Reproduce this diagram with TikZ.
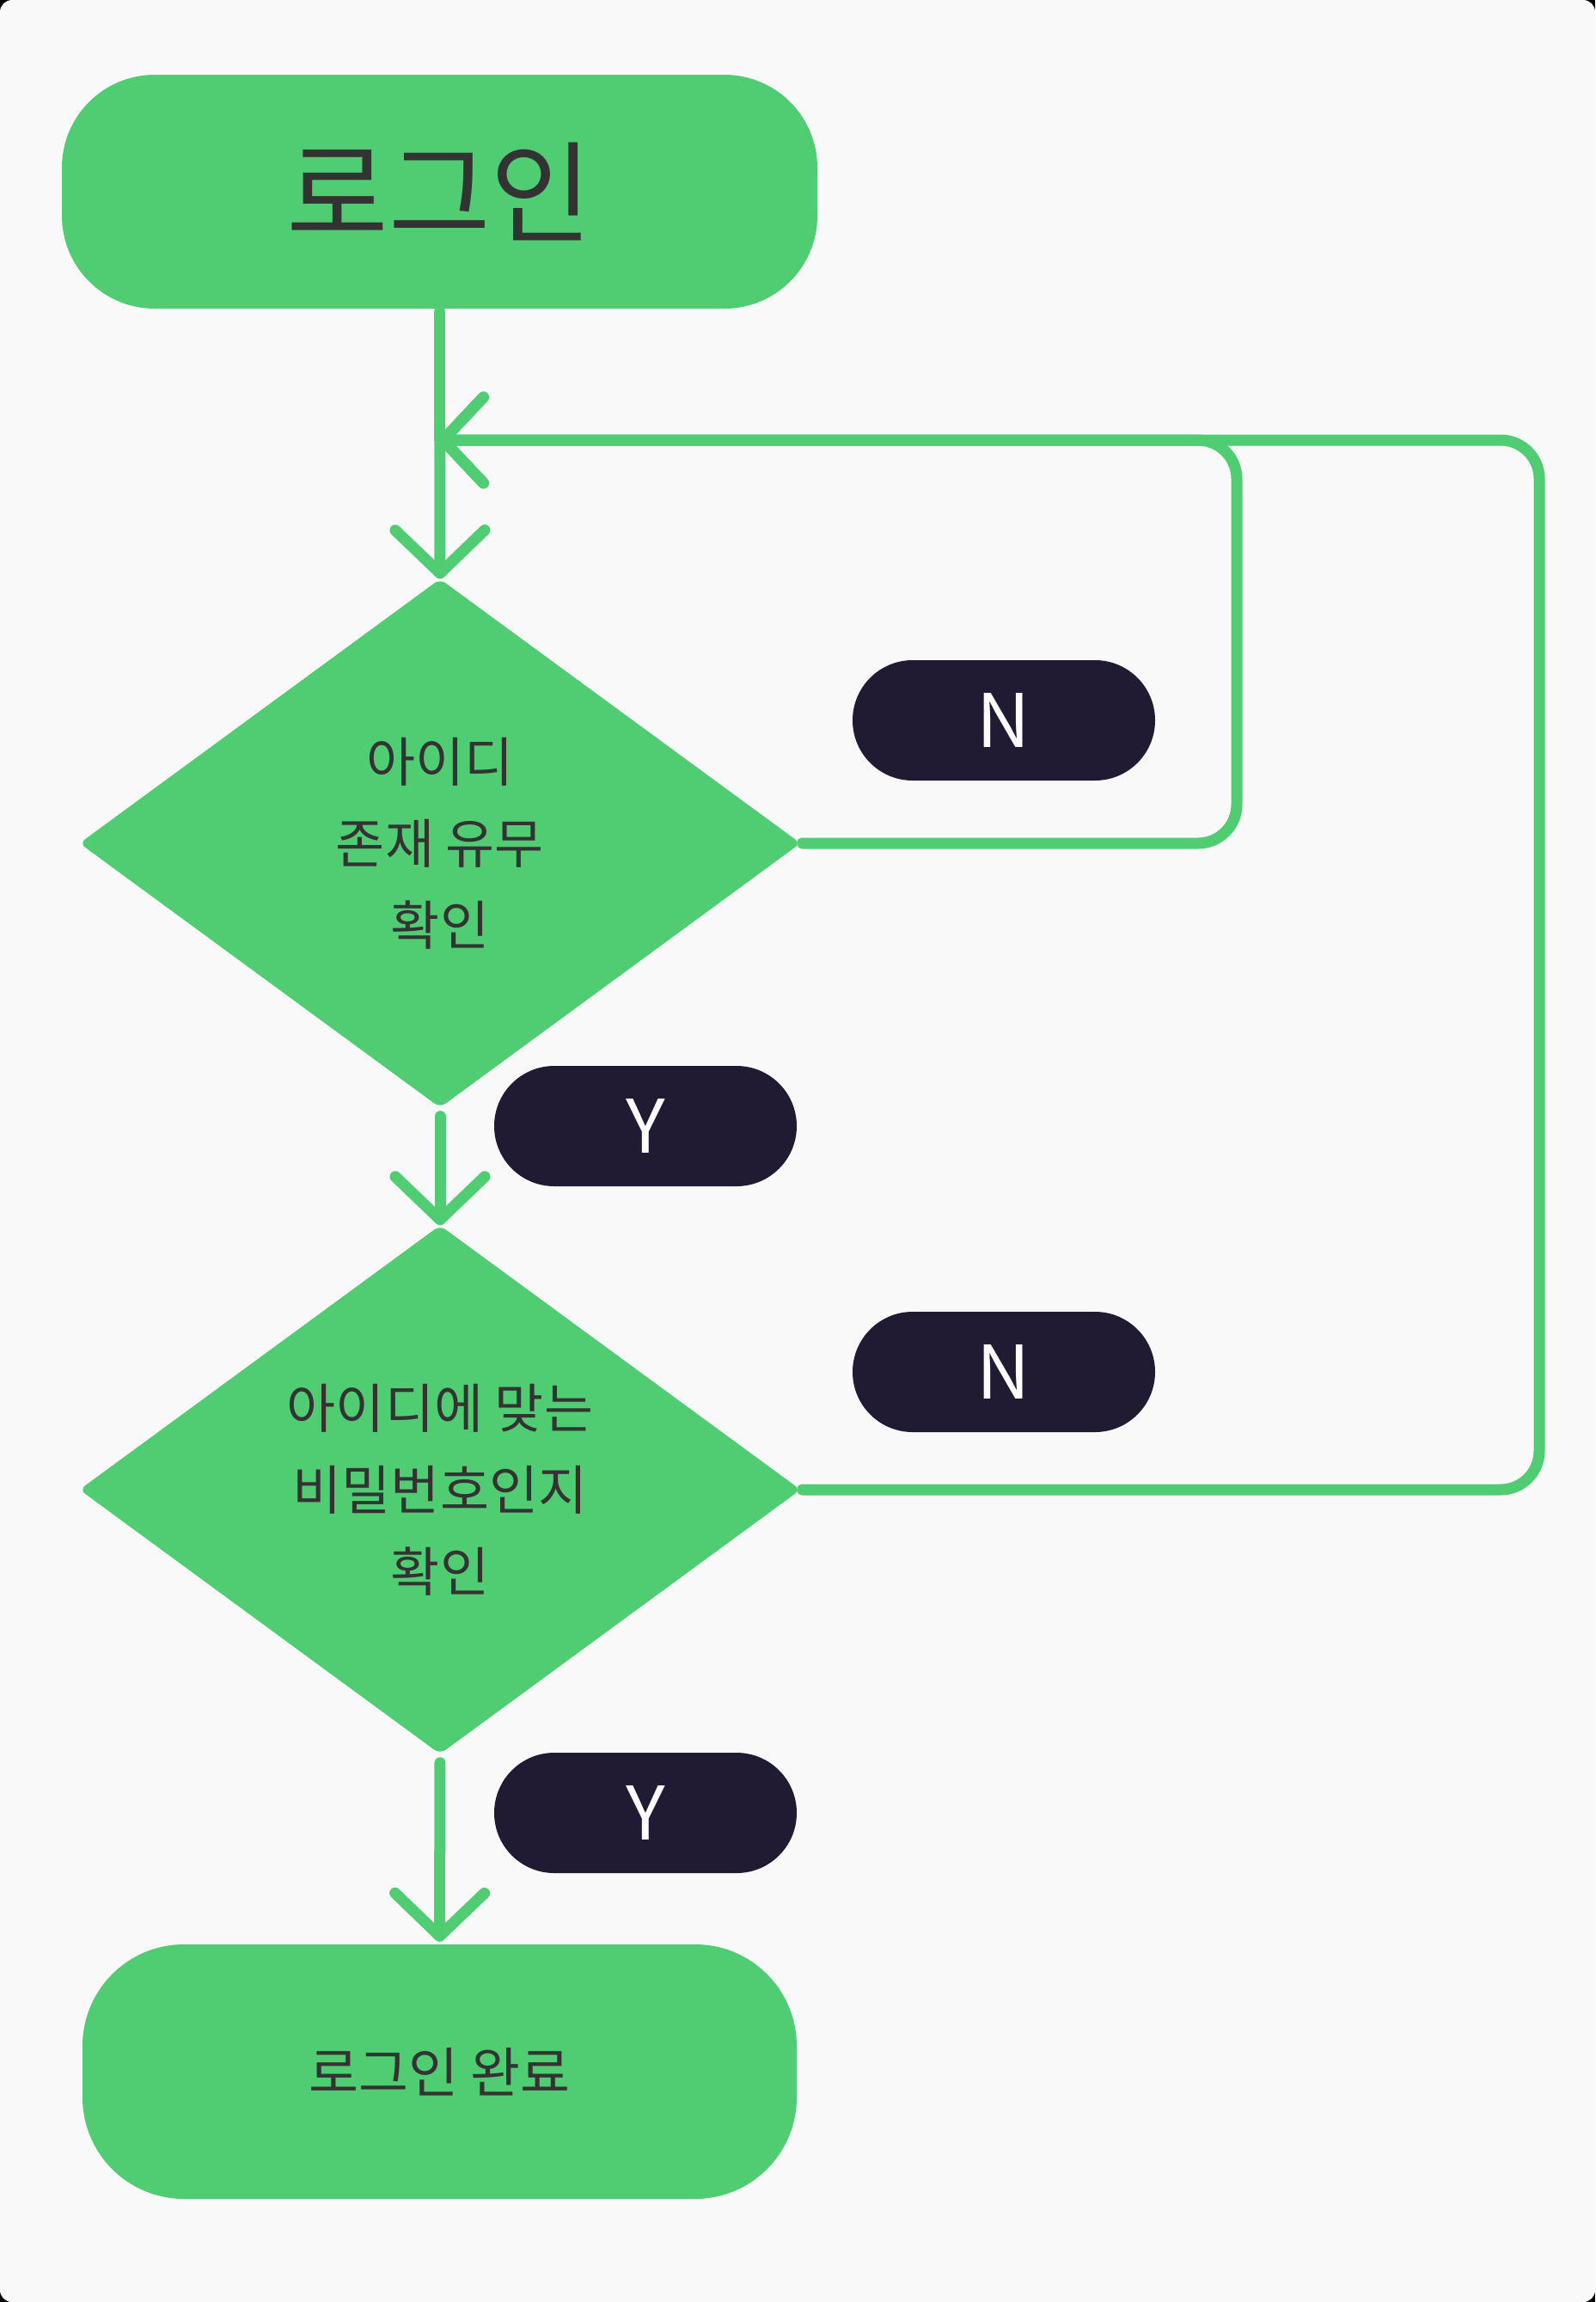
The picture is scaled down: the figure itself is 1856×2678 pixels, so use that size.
\documentclass[tikz,border=0pt]{standalone}
\usepackage{fontspec}
\setmainfont{Noto Sans CJK KR}
\usetikzlibrary{arrows.meta,shapes.geometric}
\definecolor{bgc}{HTML}{F9F9F9}
\definecolor{grn}{HTML}{50CD72}
\definecolor{lbl}{HTML}{201A33}
\definecolor{txt}{HTML}{333333}
\begin{document}
\begin{tikzpicture}[x=1pt,y=-1pt,
 term/.style={fill=grn, draw=none, rectangle, text=txt, inner sep=0pt, align=center},
 decision/.style={diamond, fill=grn, shape aspect=1.36, minimum width=839pt, minimum height=615pt, inner sep=0pt, rounded corners=8pt, text=txt, align=center, font=\fontsize{62}{95}\selectfont},
 tag/.style={fill=lbl, rounded corners=70pt, minimum width=352pt, minimum height=140pt, inner sep=0pt, text=white, font=\fontsize{86}{100}\selectfont},
 flow/.style={draw=grn, line width=13pt, line cap=round, line join=round, -{Straight Barb[length=50pt,width=104pt,round]}},
 loopline/.style={draw=grn, line width=13pt, line cap=round, line join=round, rounded corners=45pt, -{Straight Barb[length=47pt,width=100pt,round]}},
]
\useasboundingbox (0,0) rectangle (1856,2678);
\fill[black] (0,0) rectangle (1856,2678);
\fill[bgc, rounded corners=14pt] (0,0) rectangle (1856,2678);

\node[term, minimum width=879pt, minimum height=272pt, rounded corners=108pt, font=\fontsize{129}{140}\selectfont] (start) at (511.5,223) {로그인};
\node[decision] (d1) at (512,981) {아이디\\존재 유무\\확인};
\node[decision] (d2) at (512,1733) {아이디에 맞는\\비밀번호인지\\확인};
\node[term, minimum width=831pt, minimum height=296pt, rounded corners=118pt, font=\fontsize{63}{72}\selectfont] (done) at (511.5,2410) {로그인 완료};

\node[tag] (n1) at (1168,838) {N};
\node[tag] (y1) at (751,1310) {Y};
\node[tag] (n2) at (1168,1596) {N};
\node[tag] (y2) at (751,2109) {Y};

\coordinate (j) at (509,512);
\coordinate (c1a) at (1439,981);
\coordinate (c1b) at (1439,512);
\coordinate (c2a) at (1791,1733);
\coordinate (c2b) at (1791,512);

\draw[flow, shorten <=4pt, shorten >=0pt] (start.south) -- (d1.north);
\draw[flow, shorten <=10pt, shorten >=0pt] (d1.south) -- (d2.north);
\draw[flow, shorten <=10pt, shorten >=3pt] (d2.south) -- (done.north);
\draw[loopline, shorten <=2pt] (d1.east) -- (c1a) -- (c1b) -- (j);
\draw[loopline, shorten <=2pt] (d2.east) -- (c2a) -- (c2b) -- (j);
\end{tikzpicture}
\end{document}
